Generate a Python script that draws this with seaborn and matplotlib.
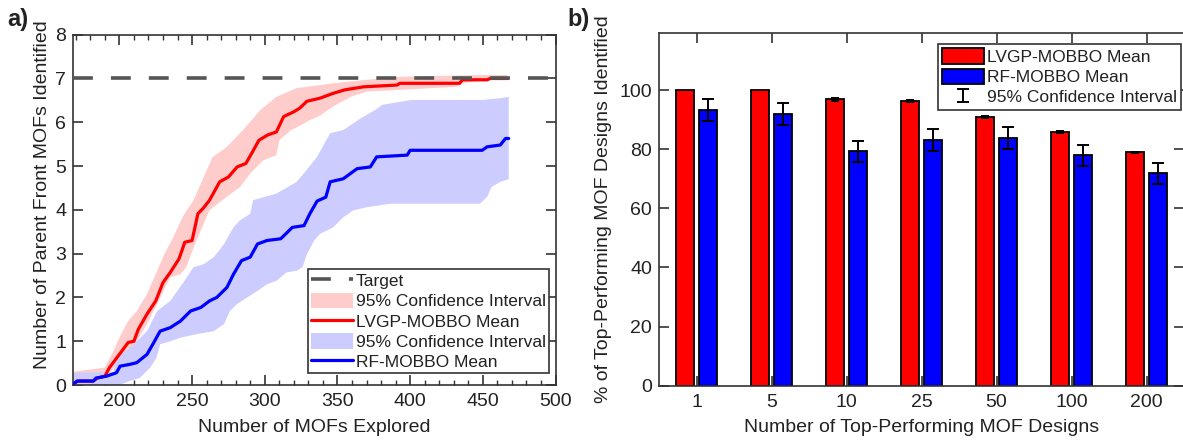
import numpy as np
import pandas as pd
import matplotlib
matplotlib.use("Agg")
import matplotlib.pyplot as plt
from matplotlib.patches import Patch
from matplotlib.lines import Line2D
from matplotlib.ticker import MultipleLocator
from matplotlib.legend_handler import HandlerErrorbar
import seaborn as sns

# ---------------- panel a: parent-front MOFs found vs. MOFs explored ----------------
target_count = 7

lvgp_mean_x = [168, 171, 182, 185, 190, 193, 200, 206, 210, 213, 219, 225, 230, 235, 241, 245,
               250, 254, 258, 262, 269, 275, 281, 287, 291, 296, 302, 308, 313, 320, 324, 329,
               338, 347, 355, 368, 391, 393, 434, 436, 453, 455, 467]
lvgp_mean_y = [0.0, 0.09, 0.09, 0.16, 0.2, 0.39, 0.70, 0.97, 1.0, 1.27, 1.62, 1.92, 2.34, 2.57,
               2.88, 3.26, 3.30, 3.91, 4.05, 4.22, 4.64, 4.75, 4.98, 5.06, 5.29, 5.59, 5.71, 5.78,
               6.13, 6.24, 6.32, 6.48, 6.55, 6.66, 6.74, 6.81, 6.85, 6.89, 6.89, 6.97, 6.97, 7.0, 7.0]

lvgp_upper_x = [168, 190, 196, 200, 206, 212, 219, 226, 231, 237, 244, 251, 264, 274, 285, 297,
                308, 322, 338, 347, 370, 393, 450, 467]
lvgp_upper_y = [0.3, 0.4, 0.78, 1.08, 1.46, 1.69, 2.08, 2.61, 2.99, 3.37, 3.87, 4.22, 5.2, 5.44,
                5.82, 6.28, 6.58, 6.78, 6.85, 6.89, 6.97, 7.04, 7.08, 7.08]

lvgp_lower_x = [168, 191, 196, 203, 212, 219, 227, 235, 242, 246, 252, 258, 262, 272, 283, 290,
                299, 308, 310, 318, 327, 331, 338, 347, 359, 370, 393, 432, 436, 453, 456, 467]
lvgp_lower_y = [0.0, 0.16, 0.39, 0.62, 1.0, 1.39, 1.92, 2.46, 2.53, 2.69, 3.22, 3.68, 3.99, 4.25,
                4.52, 4.83, 5.13, 5.25, 5.59, 5.82, 5.97, 6.05, 6.15, 6.36, 6.58, 6.70, 6.74, 6.81,
                6.89, 6.97, 7.0, 7.0]

rf_mean_x = [168, 171, 182, 184, 191, 198, 200.5, 207, 212, 219, 223, 228, 235, 242, 249, 256,
             262, 267, 274, 278.5, 284, 290, 295, 301.5, 311, 319, 327, 331, 336, 342, 345, 354,
             363.5, 372.6, 377, 398, 400, 449.5, 453, 462, 465.6, 467.8]
rf_mean_y = [0.02, 0.09, 0.09, 0.16, 0.2, 0.28, 0.43, 0.47, 0.51, 0.70, 0.93, 1.23, 1.31, 1.46,
             1.69, 1.77, 1.92, 2.0, 2.23, 2.53, 2.84, 2.92, 3.22, 3.30, 3.34, 3.60, 3.64, 3.91,
             4.2, 4.29, 4.64, 4.71, 4.94, 4.98, 5.21, 5.25, 5.36, 5.36, 5.44, 5.48, 5.63, 5.63]

rf_upper_x = [168, 196, 198, 207, 212, 219, 226, 235, 244, 251, 258, 265, 272, 278.5, 283, 290,
              292, 295, 308, 322, 331, 336, 345, 354, 366, 376, 381, 401, 449.5, 462, 467.8]
rf_upper_y = [0.28, 0.3, 0.62, 0.84, 1.0, 1.23, 1.69, 1.92, 2.34, 2.69, 2.76, 2.92, 3.22, 3.60,
              3.76, 3.91, 4.22, 4.25, 4.37, 4.64, 5.0, 5.21, 5.75, 5.82, 6.09, 6.28, 6.4, 6.51,
              6.51, 6.55, 6.58]

rf_lower_x = [168, 200, 207, 214, 221, 225.5, 228, 235, 242, 253, 265, 272, 276, 281, 288, 295,
              301.5, 308, 315, 322, 326, 329, 334, 338, 347, 354, 361, 370, 386.5, 448, 453, 456,
              462, 467.8]
rf_lower_y = [0.0, 0.0, 0.09, 0.16, 0.39, 0.62, 0.93, 1.0, 1.08, 1.16, 1.23, 1.39, 1.69, 1.85,
              2.0, 2.15, 2.3, 2.38, 2.57, 2.61, 2.69, 2.99, 3.30, 3.45, 3.6, 3.83, 3.99, 4.06,
              4.14, 4.14, 4.3, 4.52, 4.64, 4.7]

# ---------------- panel b: share of top-performing designs identified ----------------
top_n = ["1", "5", "10", "25", "50", "100", "200"]
lvgp_pct = [100, 100, 96.9, 96.3, 90.8, 85.9, 78.9]
lvgp_pct_ci = [0, 0, 0.5, 0.4, 0.4, 0.4, 0.3]
rf_pct = [93.3, 92.0, 79.3, 83.2, 83.9, 77.9, 71.8]
rf_pct_ci = [3.8, 3.75, 3.5, 3.65, 3.7, 3.6, 3.5]

# ---------------- styling ----------------
sns.set_style("ticks")
plt.rcParams["font.family"] = ["Liberation Sans", "DejaVu Sans"]
plt.rcParams.update({
    "xtick.direction": "in", "ytick.direction": "in",
    "xtick.top": True, "ytick.right": True,
    "axes.edgecolor": "#333333", "axes.linewidth": 1.2,
    "xtick.color": "#333333", "ytick.color": "#333333",
    "xtick.labelcolor": "#222222", "ytick.labelcolor": "#222222",
    "axes.labelcolor": "#222222", "text.color": "#222222",
    "xtick.major.size": 7, "ytick.major.size": 7,
    "xtick.minor.size": 3.5, "xtick.major.width": 1.2, "ytick.major.width": 1.2,
    "xtick.minor.width": 1.0,
    "font.size": 14,
})

FS = 14
LEG_FS = 12.5
RED, BLUE = "#ff0000", "#0000ff"
RED_BAND, BLUE_BAND = "#ffcccc", "#ccccff"
TARGET = "#555555"

fig = plt.figure(figsize=(11.83, 4.40), dpi=100)
W, H = 1183, 440

def px_axes(x0, y0, x1, y1):
    return fig.add_axes([x0 / W, 1 - y1 / H, (x1 - x0) / W, (y1 - y0) / H])

# ---- panel a ----
ax1 = px_axes(73.3, 34.7, 555.5, 385.0)
ax1.fill(np.r_[lvgp_upper_x, lvgp_lower_x[::-1]], np.r_[lvgp_upper_y, lvgp_lower_y[::-1]],
         color=RED_BAND, lw=0, zorder=1)
ax1.fill(np.r_[rf_upper_x, rf_lower_x[::-1]], np.r_[rf_upper_y, rf_lower_y[::-1]],
         color=BLUE_BAND, lw=0, zorder=1.1)
sns.lineplot(x=lvgp_mean_x, y=lvgp_mean_y, ax=ax1, color=RED, lw=2.3, estimator=None,
             sort=False, zorder=3)
sns.lineplot(x=rf_mean_x, y=rf_mean_y, ax=ax1, color=BLUE, lw=2.3, estimator=None,
             sort=False, zorder=3.1)
ax1.axhline(target_count, color=TARGET, lw=2.6, dashes=(5.5, 5), zorder=4)

ax1.set_xlim(168.3, 500)
ax1.set_ylim(0, 8)
ax1.xaxis.set_major_locator(MultipleLocator(50))
ax1.xaxis.set_minor_locator(MultipleLocator(10))
ax1.yaxis.set_major_locator(MultipleLocator(1))
ax1.tick_params(axis="both", labelsize=FS, pad=5)
ax1.tick_params(axis="x", pad=6)
ax1.set_xlabel("Number of MOFs Explored", fontsize=FS, labelpad=6)
# y label for panel a, centred a little above the axes midpoint
fig.text(42.5 / W, 1 - 195 / H, "Number of Parent Front MOFs Identified", fontsize=FS,
         rotation=90, ha="center", va="center")

leg1_handles = [
    Line2D([], [], color=TARGET, lw=2.6, dashes=(5.5, 5)),
    Patch(facecolor=RED_BAND, edgecolor="none"),
    Line2D([], [], color=RED, lw=2.3),
    Patch(facecolor=BLUE_BAND, edgecolor="none"),
    Line2D([], [], color=BLUE, lw=2.3),
]
leg1_labels = ["Target", "95% Confidence Interval", "LVGP-MOBBO Mean",
               "95% Confidence Interval", "RF-MOBBO Mean"]
leg1 = ax1.legend(leg1_handles, leg1_labels, loc="upper left",
                  bbox_to_anchor=(308 / W, 1 - 269 / H), bbox_transform=fig.transFigure,
                  borderaxespad=0, fontsize=LEG_FS, frameon=True, fancybox=False,
                  handlelength=2.4, handletextpad=0.15, labelspacing=0.2,
                  borderpad=0.2, handleheight=1.0)
leg1.get_frame().set_edgecolor("#333333")
leg1.get_frame().set_linewidth(1.2)
leg1.get_frame().set_alpha(1)

# ---- panel b ----
ax2 = px_axes(659, 33, 1184, 385.7)
bars_df = pd.DataFrame({
    "top_n": top_n * 2,
    "pct": lvgp_pct + rf_pct,
    "method": ["LVGP-MOBBO Mean"] * len(top_n) + ["RF-MOBBO Mean"] * len(top_n),
})
sns.barplot(data=bars_df, x="top_n", y="pct", hue="method", order=top_n,
            palette=[RED, BLUE], errorbar=None, width=0.61, gap=0.24,
            edgecolor="black", linewidth=1.3, saturation=1, ax=ax2, legend=False, zorder=2)

err_handle = None
for cont, means, ci, cap in zip(ax2.containers[:2], [lvgp_pct, rf_pct],
                                [lvgp_pct_ci, rf_pct_ci], [3, 4.5]):
    centers = [p.get_x() + p.get_width() / 2 for p in cont.patches]
    keep = [i for i, c in enumerate(ci) if c > 0]
    eb = ax2.errorbar([centers[i] for i in keep], [means[i] for i in keep],
                      yerr=[ci[i] for i in keep], fmt="none", ecolor="black",
                      elinewidth=1.4, capsize=cap, capthick=1.4, zorder=3)
    err_handle = eb

ax2.set_xlim(-0.5, 6.5)
ax2.set_ylim(0, 119.3)
ax2.set_yticks([0, 20, 40, 60, 80, 100])
ax2.tick_params(axis="both", labelsize=FS, pad=5)
ax2.tick_params(axis="x", length=7, pad=6)
ax2.set_xlabel("Number of Top-Performing MOF Designs", fontsize=FS, labelpad=6)
ax2.set_ylabel("% of Top-Performing MOF Designs Identified", fontsize=FS, labelpad=5)

leg2_handles = [
    Patch(facecolor=RED, edgecolor="black", linewidth=1.3),
    Patch(facecolor=BLUE, edgecolor="black", linewidth=1.3),
    err_handle,
]
leg2_labels = ["LVGP-MOBBO Mean", "RF-MOBBO Mean", "95% Confidence Interval"]
leg2 = ax2.legend(leg2_handles, leg2_labels, loc="upper left",
                  bbox_to_anchor=(938 / W, 1 - 44 / H), bbox_transform=fig.transFigure,
                  borderaxespad=0, fontsize=LEG_FS, frameon=True, fancybox=False,
                  handlelength=2.4, handletextpad=0.15, labelspacing=0.2,
                  borderpad=0.25, handleheight=1.0,
                  handler_map={type(err_handle): HandlerErrorbar(yerr_size=0.38)})
leg2.get_frame().set_edgecolor("#333333")
leg2.get_frame().set_linewidth(1.2)
leg2.get_frame().set_alpha(1)

# panel letters
fig.text(7 / W, 1 - 8 / H, "a)", fontsize=17, fontweight="bold", va="top", ha="left")
fig.text(567 / W, 1 - 8 / H, "b)", fontsize=17, fontweight="bold", va="top", ha="left")

fig.savefig("out.png", dpi=100)
